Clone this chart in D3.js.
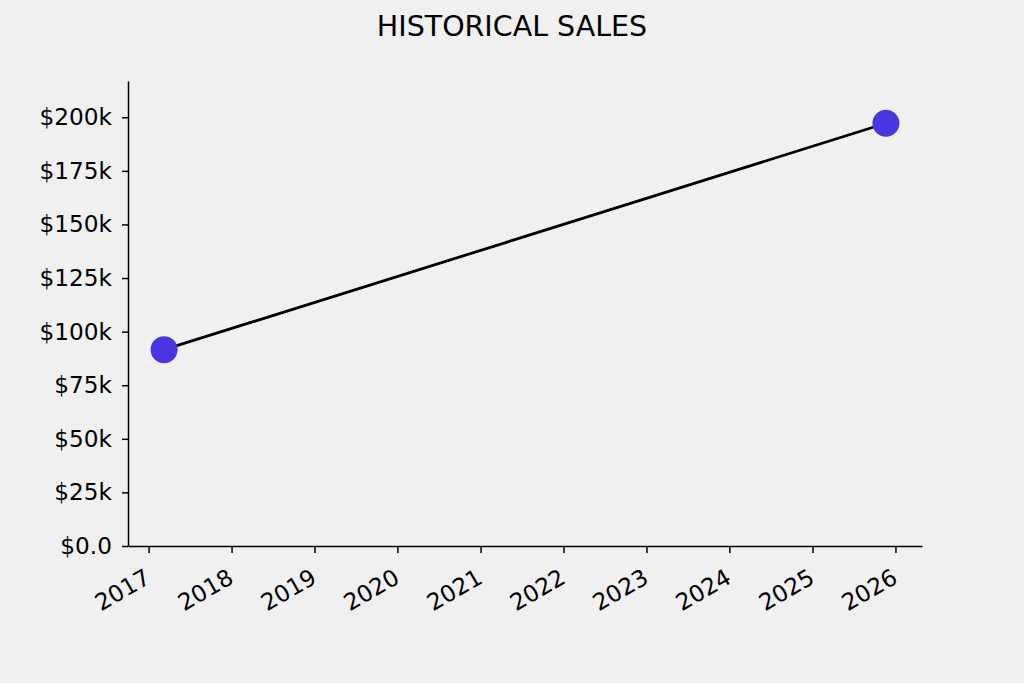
<!DOCTYPE html>
<html><head><meta charset="utf-8">
<script src="https://cdn.jsdelivr.net/npm/d3@7"></script>
<style>body{margin:0;background:#f0f0f0;} svg{display:block;font-family:"DejaVu Sans",sans-serif;}</style>
</head><body><svg id="c" width="1024" height="683"></svg>
<script>
const title = "HISTORICAL SALES";
const dates = ["2017-03-10", "2025-11-20"];
const sales = [91600, 197200];
const yTicks = [0, 25000, 50000, 75000, 100000, 125000, 150000, 175000, 200000];
const xTickYears = [2017, 2018, 2019, 2020, 2021, 2022, 2023, 2024, 2025, 2026];

const parse = d3.timeParse("%Y-%m-%d");
const data = dates.map((d, i) => ({date: parse(d), value: sales[i]}));

const svg = d3.select("#c");
svg.append("rect").attr("width", 1024).attr("height", 683).attr("fill", "#f0f0f0");
const L = 128, R = 922, T = 81, B = 546;

const t0 = data[0].date.getTime(), t1 = data[1].date.getTime(), span = t1 - t0;
const x = d3.scaleTime().domain([new Date(t0 - 0.05 * span), new Date(t1 + 0.05 * span)]).range([L, R]);
const ymax = d3.max(sales) * 1.1;
const y = d3.scaleLinear().domain([0, ymax]).range([B, T]);

const fmt = v => v === 0 ? "$0.0" : "$" + (v / 1000) + "k";

const yAxis = svg.append("g").attr("transform", `translate(${L},0)`)
  .call(d3.axisLeft(y).tickValues(yTicks).tickFormat(fmt).tickSize(6).tickPadding(10).tickSizeOuter(0));
yAxis.attr("font-size", null).attr("font-family", null);
yAxis.selectAll("text").style("font-size", "23.2px").attr("fill", "#000").style("font-family", "DejaVu Sans");
yAxis.selectAll("line,path").attr("stroke", "#000").attr("stroke-width", 1.5);

const xAxis = svg.append("g").attr("transform", `translate(0,${B})`)
  .call(d3.axisBottom(x).tickValues(xTickYears.map(yr => new Date(yr, 0, 1))).tickFormat(d3.timeFormat("%Y")).tickSize(7).tickSizeOuter(0));
xAxis.attr("font-size", null).attr("font-family", null);
xAxis.selectAll("line,path").attr("stroke", "#000").attr("stroke-width", 1.5);
xAxis.selectAll("text").style("font-size", "23.2px").attr("fill", "#000").style("font-family", "DejaVu Sans")
  .attr("text-anchor", "end").attr("dy", null).attr("y", null)
  .attr("transform", "translate(3,36) rotate(-30)");

svg.append("path").datum(data)
  .attr("d", d3.line().x(d => x(d.date)).y(d => y(d.value)))
  .attr("fill", "none").attr("stroke", "#000").attr("stroke-width", 2.8);

svg.selectAll("circle.pt").data(data).enter().append("circle")
  .attr("cx", d => x(d.date)).attr("cy", d => y(d.value)).attr("r", 13.5)
  .attr("fill", "#4a36e0");

svg.append("text").attr("x", 512).attr("y", 36).attr("text-anchor", "middle")
  .style("font-size", "28.5px").attr("fill", "#000").text(title);
</script></body></html>
